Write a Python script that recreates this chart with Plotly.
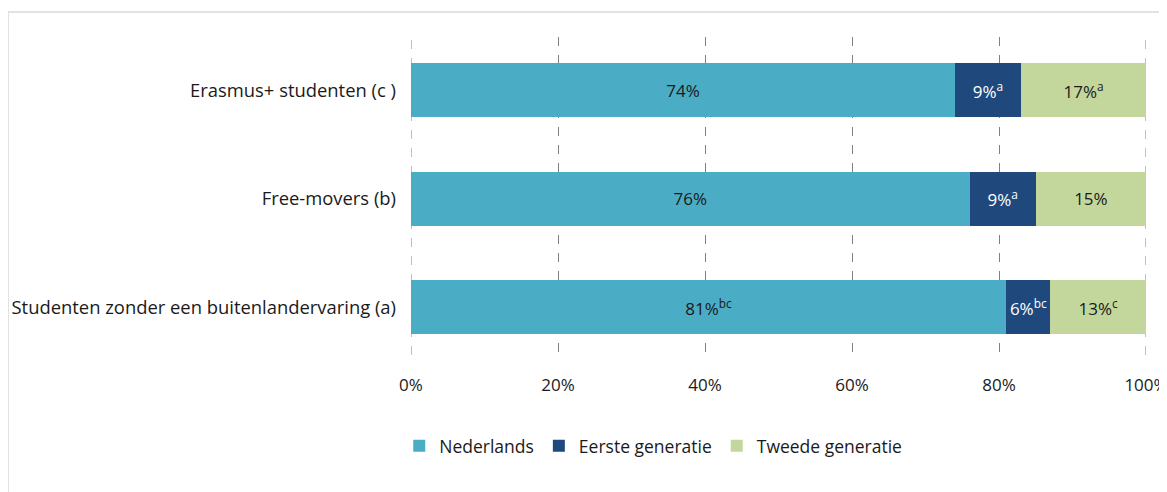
import plotly.graph_objects as go

categories = ["Studenten zonder een buitenlandervaring (a)", "Free-movers (b)", "Erasmus+ studenten (c )"]
series_names = ["Nederlands", "Eerste generatie", "Tweede generatie"]
nederlands = [81, 76, 74]
eerste = [6, 9, 9]
tweede = [13, 15, 17]
sup_ned = ["bc", "", ""]
sup_eerste = ["bc", "a", "a"]
sup_tweede = ["c", "", "a"]
tick_vals = [0, 20, 40, 60, 80, 100]
tick_text = ["0%", "20%", "40%", "60%", "80%", "100%"]

colors = ["#4BACC6", "#1F497D", "#C3D69B"]
text_colors = ["#1a1a1a", "#ffffff", "#1a1a1a"]
FONT = "Open Sans, DejaVu Sans, sans-serif"
GRID = "#808080"

# page body has an 8px margin, so figure coords = screen coords - 8
L, R, T, B = 403, 29, 29, 145
PW = 1167 - L - R
PH = 492 - T - B

def labels(vals, sups):
    return [f"{v}%" + (f"<sup>{s}</sup>" if s else "") for v, s in zip(vals, sups)]

fig = go.Figure()
for name, vals, sups, c, tc in zip(series_names, [nederlands, eerste, tweede],
                                   [sup_ned, sup_eerste, sup_tweede], colors, text_colors):
    fig.add_trace(go.Bar(
        y=categories, x=vals, name=name, orientation="h",
        marker=dict(color=c, line=dict(width=0)),
        text=labels(vals, sups), textposition="inside", insidetextanchor="middle",
        constraintext="none", textangle=0,
        textfont=dict(color=tc, size=17, family=FONT), width=0.5,
        hoverinfo="skip",
    ))

fig.update_layout(
    barmode="stack",
    width=1167, height=492,
    margin=dict(l=L, r=R, t=T, b=B, autoexpand=False),
    paper_bgcolor="white", plot_bgcolor="white",
    font=dict(family=FONT, size=17, color="#1a1a1a"),
    xaxis=dict(range=[0, 100], tickvals=tick_vals, ticktext=tick_text,
               showgrid=True, gridcolor=GRID, griddash="dash", gridwidth=1,
               zeroline=False, showline=False, ticks="", ticklabelstandoff=18,
               tickfont=dict(size=17), automargin=False),
    yaxis=dict(range=[-0.44, 2.49], showgrid=False, zeroline=False, showline=False,
               ticks="", ticklabelstandoff=14, tickfont=dict(size=18.4), automargin=False),
    legend=dict(orientation="h", x=-0.016, xanchor="left", y=-0.286, yanchor="middle",
                font=dict(size=17.5), traceorder="normal", itemwidth=30),
    showlegend=True,
)
# edge gridlines (plotly omits gridlines lying on the plot-area edges)
for v in (tick_vals[0], tick_vals[-1]):
    fig.add_shape(type="line", xref="x", yref="paper", x0=v, x1=v, y0=0, y1=1,
                  line=dict(color=GRID, width=1, dash="dash"), layer="below")
fig.add_shape(type="rect", xref="paper", yref="paper",
              x0=(0 - L) / PW, x1=(1175 - L) / PW,
              y0=(PH + T - 500) / PH, y1=(PH + T - 4) / PH,
              line=dict(color="#d9d9d9", width=1.5), fillcolor="rgba(0,0,0,0)", layer="below")

fig.write_html("out.html")
